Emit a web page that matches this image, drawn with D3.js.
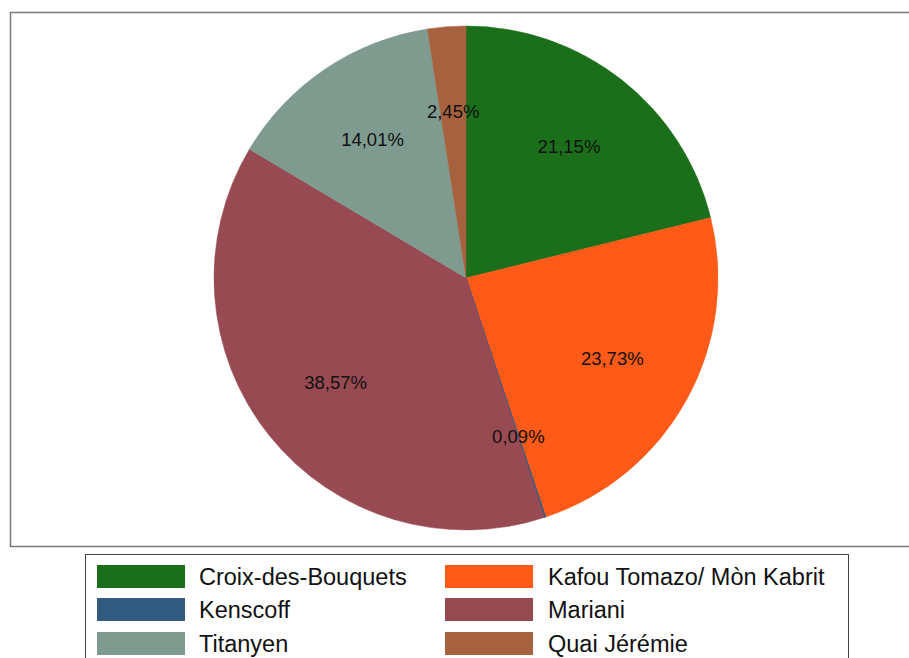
<!DOCTYPE html>
<html><head><meta charset="utf-8">
<script src="https://cdn.jsdelivr.net/npm/d3@7"></script>
<style>body{margin:0;background:#fff}svg{display:block}</style>
</head><body>
<svg id="c" width="909" height="658"></svg>
<script>
const categories = ["Croix-des-Bouquets","Kafou Tomazo/ Mòn Kabrit","Kenscoff","Mariani","Titanyen","Quai Jérémie"];
const values = [21.15, 23.73, 0.09, 38.57, 14.01, 2.45];
const labels = ["21,15%","23,73%","0,09%","38,57%","14,01%","2,45%"];
const colors = ["#1b6f1b","#ff5a17","#335b80","#984a52","#7f9a8f","#a6623f"];

const svg = d3.select("#c");
const font = "'Liberation Sans', Arial, sans-serif";

// plot frame
svg.append("rect").attr("x",10.5).attr("y",12.5).attr("width",910).attr("height",534)
  .attr("fill","#fff").attr("stroke","#7a7a7a").attr("stroke-width",1.5);

const cx = 466, cy = 278, r = 252;
const pie = d3.pie().sort(null).value(d=>d)(values);
const arc = d3.arc().innerRadius(0).outerRadius(r);
const labArc = d3.arc().innerRadius(167).outerRadius(167);
const g = svg.append("g").attr("transform",`translate(${cx},${cy})`);
g.selectAll("path").data(pie).join("path")
  .attr("d",arc).attr("fill",(d,i)=>colors[i])
  .attr("stroke",(d,i)=>colors[i]).attr("stroke-width",(d,i)=>i===2?1:0.5);
g.selectAll("text").data(pie).join("text")
  .attr("transform",d=>`translate(${labArc.centroid(d)})`)
  .attr("text-anchor","middle").attr("dominant-baseline","central")
  .attr("font-family",font).attr("font-size",18.5).attr("fill","#111")
  .text((d,i)=>labels[i]);

// legend
svg.append("rect").attr("x",85.5).attr("y",554.5).attr("width",763).attr("height",110)
  .attr("fill","#fff").attr("stroke","#444").attr("stroke-width",1);
const colX = [97, 445], txtX = [199, 548], rowY = [565, 598, 632];
const lg = svg.append("g");
categories.forEach((c,i)=>{
  const col = i%2, row = Math.floor(i/2);
  lg.append("rect").attr("x",colX[col]).attr("y",rowY[row]).attr("width",88).attr("height",23)
    .attr("fill",colors[i]);
  lg.append("text").attr("x",txtX[col]).attr("y",rowY[row]+12)
    .attr("dominant-baseline","central").attr("font-family",font).attr("font-size",23.5)
    .attr("fill","#111").text(c);
});
</script>
</body></html>
